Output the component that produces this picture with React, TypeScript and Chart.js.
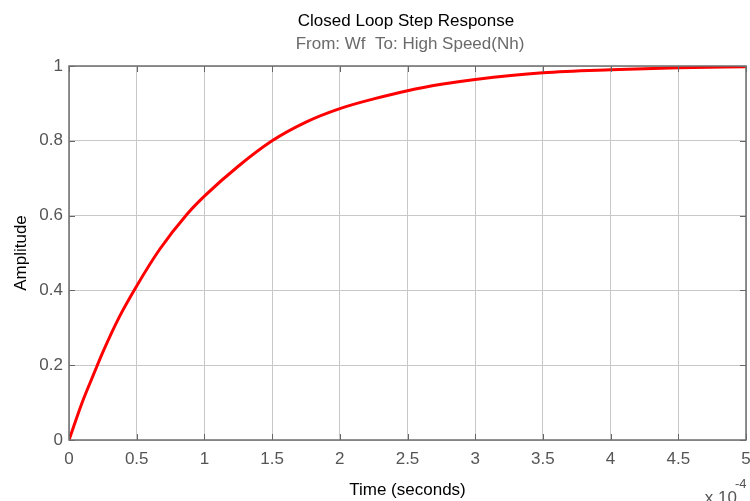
import React, { useEffect, useRef } from "react";
import { Chart, registerables } from "chart.js";

Chart.register(...registerables);

const titleText = "Closed Loop Step Response";
const subtitleText = "From: Wf  To: High Speed(Nh)";
const xLabel = "Time (seconds)";
const yLabel = "Amplitude";
const xExponent = "-4";

// time in units of 1e-4 s
const times = [0, 0.1, 0.18, 0.25, 0.37, 0.5, 0.67, 0.87, 1, 1.25, 1.5, 1.75, 2, 2.25, 2.5, 2.75, 3, 3.5, 4, 4.5, 5];
const amplitude = [0, 0.103, 0.174, 0.235, 0.328, 0.412, 0.51, 0.603, 0.652, 0.732, 0.8, 0.85, 0.886, 0.912, 0.934, 0.951, 0.964, 0.982, 0.99, 0.995, 0.998];

const FONT = "'Liberation Sans', Arial, Helvetica, sans-serif";

const fmt = (v: any) => String(Number(Number(v).toFixed(2)));

const framePlugin = {
  id: "matlabFrame",
  afterDraw(chart: any) {
    const { ctx, chartArea } = chart;
    const { left, right, top, bottom } = chartArea;
    const xs = chart.scales.x;
    const ys = chart.scales.y;
    ctx.save();
    ctx.strokeStyle = "#666666";
    ctx.lineWidth = 1;
    ctx.beginPath();
    xs.ticks.forEach((t: any) => {
      const px = Math.round(xs.getPixelForValue(t.value)) + 0.5;
      ctx.moveTo(px, bottom);
      ctx.lineTo(px, bottom - 6);
      ctx.moveTo(px, top);
      ctx.lineTo(px, top + 6);
    });
    ys.ticks.forEach((t: any) => {
      const py = Math.round(ys.getPixelForValue(t.value)) + 0.5;
      ctx.moveTo(left, py);
      ctx.lineTo(left + 6, py);
      ctx.moveTo(right, py);
      ctx.lineTo(right - 6, py);
    });
    ctx.stroke();
    ctx.strokeStyle = "#6e6e6e";
    ctx.lineWidth = 1.5;
    ctx.strokeRect(left, top, right - left, bottom - top);
    ctx.textAlign = "center";
    ctx.textBaseline = "middle";
    ctx.fillStyle = "#000000";
    ctx.font = `17px ${FONT}`;
    ctx.fillText(titleText, 406, 21);
    ctx.fillStyle = "#6a6a6a";
    ctx.font = `17px ${FONT}`;
    ctx.fillText(subtitleText, 410, 44);
    ctx.fillStyle = "#555555";
    ctx.font = `17px ${FONT}`;
    ctx.textAlign = "right";
    ctx.fillText("x 10", 737, 498);
    ctx.font = `13px ${FONT}`;
    ctx.textAlign = "left";
    ctx.fillText(xExponent, 735, 484);
    ctx.restore();
  },
};

export default function App() {
  const ref = useRef<HTMLCanvasElement>(null);
  useEffect(() => {
    if (!ref.current) return;
    const chart = new Chart(ref.current, {
      type: "line",
      data: {
        datasets: [
          {
            data: times.map((t, i) => ({ x: t, y: amplitude[i] })),
            borderColor: "#ff0000",
            borderWidth: 3,
            pointRadius: 0,
            fill: false,
            cubicInterpolationMode: "monotone",
          },
        ],
      },
      options: {
        animation: false,
        responsive: false,
        maintainAspectRatio: false,
        layout: { padding: { top: 66, right: 4, left: 0, bottom: 0 } },
        plugins: { legend: { display: false }, tooltip: { enabled: false } },
        scales: {
          x: {
            type: "linear",
            min: 0,
            max: 5,
            ticks: {
              stepSize: 0.5,
              color: "#555555",
              font: { family: FONT, size: 17 },
              padding: 9,
              maxRotation: 0,
              callback: fmt,
            },
            grid: { color: "#c8c8c8", drawTicks: false },
            border: { display: false },
            title: {
              display: true,
              text: xLabel,
              color: "#000000",
              font: { family: FONT, size: 17 },
              padding: { top: 0, bottom: 0 },
            },
            afterFit(scale: any) {
              scale.height = 61;
              scale.paddingLeft = 0;
              scale.paddingRight = 0;
            },
          },
          y: {
            min: 0,
            max: 1,
            ticks: {
              stepSize: 0.2,
              color: "#555555",
              font: { family: FONT, size: 17 },
              padding: 6,
              callback: fmt,
            },
            grid: { color: "#c8c8c8", drawTicks: false },
            border: { display: false },
            title: {
              display: true,
              text: yLabel,
              color: "#000000",
              font: { family: FONT, size: 17 },
              padding: { top: 11, bottom: 0 },
            },
            afterFit(scale: any) {
              scale.width = 69;
              scale.paddingTop = 0;
              scale.paddingBottom = 0;
            },
          },
        },
      },
      plugins: [framePlugin],
    } as any);
    return () => chart.destroy();
  }, []);
  return (
    <div style={{ position: "absolute", left: 0, top: 0, width: 750, height: 501, background: "#ffffff" }}>
      <canvas ref={ref} width={750} height={501} style={{ display: "block" }} />
    </div>
  );
}
